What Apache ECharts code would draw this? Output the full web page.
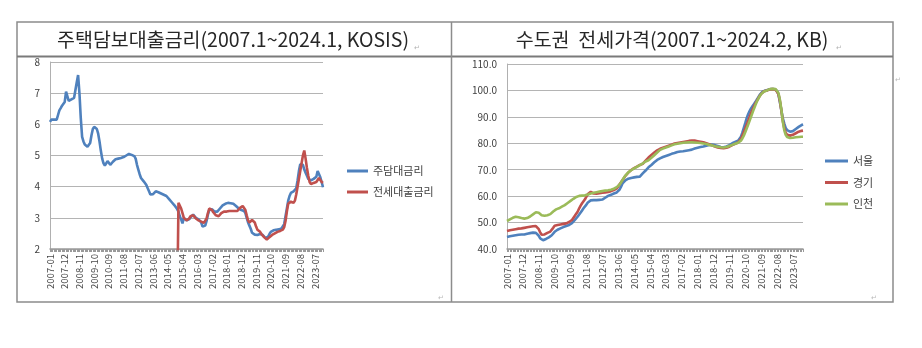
<!DOCTYPE html>
<html>
<head>
<meta charset="utf-8">
<script src="https://cdn.jsdelivr.net/npm/echarts@6/dist/echarts.min.js"></script>
<style>
  html, body { margin: 0; padding: 0; background: #fff; }
  #chart { width: 922px; height: 348px; }
</style>
</head>
<body>
<div id="chart"></div>
<script>
// 주택담보대출금리 (월별, %) 2007-01 ~ 2024-01
const mortgageRate = [
  6.08, 6.15, 6.18, 6.15, 6.12, 6.15, 6.3, 6.45, 6.52, 6.6, 6.65, 6.72,
  7.05, 6.9, 6.75, 6.78, 6.8, 6.8, 6.85, 7.1, 7.35, 7.58, 7.0, 6.2,
  5.6, 5.45, 5.35, 5.3, 5.28, 5.3, 5.4, 5.65, 5.85, 5.92, 5.93, 5.85,
  5.7, 5.45, 5.15, 4.9, 4.75, 4.68, 4.72, 4.82, 4.78, 4.7, 4.68, 4.8,
  4.82, 4.88, 4.9, 4.9, 4.88, 4.92, 4.95, 4.95, 4.98, 5.0, 5.02, 5.05,
  5.05, 5.02, 5.0, 4.98, 4.9, 4.7, 4.55, 4.4, 4.28, 4.22, 4.17, 4.12,
  4.05, 3.95, 3.85, 3.75, 3.72, 3.76, 3.82, 3.85, 3.84, 3.82, 3.8, 3.78,
  3.76, 3.74, 3.72, 3.7, 3.66, 3.6, 3.55, 3.5, 3.45, 3.4, 3.35, 3.28,
  3.2, 3.05, 2.95, 2.82, 3.0, 2.95, 2.92, 2.9, 2.95, 3.02, 3.08, 3.1,
  3.08, 3.0, 2.96, 2.95, 2.92, 2.85, 2.72, 2.67, 2.75, 2.9, 3.1, 3.25,
  3.3, 3.28, 3.22, 3.2, 3.2, 3.2, 3.25, 3.3, 3.35, 3.4, 3.43, 3.45,
  3.46, 3.48, 3.48, 3.47, 3.48, 3.45, 3.42, 3.38, 3.33, 3.3, 3.28, 3.25,
  3.25, 3.22, 3.15, 3.0, 2.85, 2.75, 2.65, 2.52, 2.48, 2.46, 2.45, 2.45,
  2.46, 2.48, 2.5, 2.45, 2.4, 2.35, 2.33, 2.4, 2.48, 2.55, 2.58, 2.6,
  2.6, 2.62, 2.63, 2.63, 2.64, 2.66, 2.7, 2.8, 3.05, 3.3, 3.55, 3.7,
  3.8, 3.82, 3.85, 3.88, 3.95, 4.2, 4.5, 4.72, 4.78, 4.7, 4.55, 4.45,
  4.35, 4.25, 4.2, 4.2, 4.22, 4.25, 4.28, 4.32, 4.5, 4.52, 4.3, 4.15,
  3.98
];

// 전세대출금리 (월별, %) 2014-12 ~ 2024-01; 2014-12 값은 공란(0)으로 집계됨
const jeonseLoanStart = '2014-12';
const jeonseLoanRate = [
  0,
  3.48, 3.42, 3.3, 3.15, 3.0, 2.95, 2.92, 2.92, 2.98, 3.05, 3.1, 3.08,
  3.02, 2.98, 2.95, 2.92, 2.9, 2.88, 2.85, 2.84, 2.88, 2.98, 3.15, 3.3,
  3.32, 3.25, 3.18, 3.12, 3.08, 3.05, 3.05, 3.1, 3.15, 3.18, 3.2, 3.2,
  3.2, 3.21, 3.22, 3.22, 3.22, 3.22, 3.22, 3.22, 3.22, 3.25, 3.32, 3.36,
  3.38, 3.35, 3.25, 3.08, 2.92, 2.85, 2.88, 2.93, 2.95, 2.85, 2.72, 2.62,
  2.6, 2.55, 2.48, 2.42, 2.38, 2.32, 2.3, 2.32, 2.38, 2.42, 2.45, 2.48,
  2.5, 2.52, 2.55, 2.57, 2.58, 2.58, 2.62, 2.7, 2.9, 3.2, 3.45, 3.5,
  3.52, 3.5, 3.48, 3.55, 3.75, 4.0, 4.25, 4.5, 4.75, 5.0, 5.16, 4.9,
  4.6, 4.35, 4.15, 4.08, 4.1, 4.12, 4.12, 4.15, 4.2, 4.28, 4.3, 4.15,
  4.12
];

// KB 전세가격지수 (2022.1=100) 2007-01 ~ 2024-02
const seoul = [
  44.5, 44.7, 44.8, 44.9, 45.0, 45.1, 45.2, 45.3, 45.4, 45.5, 45.5, 45.5,
  45.5, 45.6, 45.8, 45.9, 46.0, 46.1, 46.2, 46.2, 46.1, 45.8, 45.0, 44.0,
  43.4, 43.3, 43.5, 43.8, 44.1, 44.4, 44.7, 45.2, 45.8, 46.5, 47.0, 47.3,
  47.5, 47.8, 48.1, 48.3, 48.5, 48.7, 48.9, 49.1, 49.5, 49.8, 50.3, 51.0,
  51.5, 52.3, 53.0, 53.8, 54.6, 55.4, 56.0, 56.8, 57.6, 58.2, 58.4, 58.5,
  58.5, 58.5, 58.5, 58.6, 58.6, 58.6, 58.7, 59.0, 59.4, 59.8, 60.1, 60.3,
  60.5, 60.7, 61.0, 61.2, 61.4, 61.6, 62.5, 63.6, 64.8, 65.5, 66.0, 66.4,
  66.6, 66.8, 66.9, 67.0, 67.1, 67.2, 67.3, 67.3, 67.4, 67.9, 68.6, 69.2,
  69.7, 70.3, 70.9, 71.4, 71.8, 72.3, 72.8, 73.3, 73.7, 74.0, 74.3, 74.6,
  74.8, 75.0, 75.2, 75.4, 75.6, 75.8, 76.0, 76.1, 76.3, 76.5, 76.7, 76.8,
  76.9, 77.0, 77.0, 77.1, 77.2, 77.3, 77.4, 77.5, 77.6, 77.8, 78.0, 78.1,
  78.3, 78.4, 78.6, 78.7, 78.8, 78.9, 79.1, 79.3, 79.4, 79.5, 79.5, 79.4,
  79.3, 79.2, 79.0, 78.8, 78.6, 78.5, 78.5, 78.6, 78.8, 79.0, 79.3, 79.6,
  80.0, 80.3, 80.5, 80.7, 81.0, 81.5, 82.5, 84.0, 85.8, 87.6, 89.5, 91.0,
  92.2, 93.2, 94.0, 94.8, 95.6, 96.5, 97.4, 98.3, 99.0, 99.5, 99.8, 100.0,
  100.0, 100.3, 100.4, 100.5, 100.5, 100.5, 100.4, 99.8, 98.5, 95.5, 92.5, 89.5,
  87.5, 85.8, 85.0, 84.6, 84.4, 84.4, 84.6, 85.0, 85.4, 85.8, 86.2, 86.6,
  86.9, 87.2
];
const gyeonggi = [
  46.8, 47.0, 47.1, 47.2, 47.3, 47.4, 47.5, 47.6, 47.7, 47.8, 47.8, 47.9,
  48.0, 48.1, 48.2, 48.3, 48.4, 48.5, 48.6, 48.7, 48.7, 48.4, 47.5, 46.3,
  45.4, 45.3, 45.5, 45.8, 46.1, 46.4, 46.6, 47.2, 48.0, 48.8, 49.0, 49.1,
  49.2, 49.3, 49.4, 49.5, 49.6, 49.7, 49.9, 50.2, 50.6, 51.0, 51.7, 52.6,
  53.3, 54.2, 55.4, 56.4, 57.3, 58.0, 58.8, 59.8, 60.8, 61.5, 61.6, 61.3,
  61.0, 60.9, 60.9, 61.0, 61.1, 61.2, 61.3, 61.4, 61.4, 61.5, 61.6, 61.7,
  61.9, 62.1, 62.3, 62.6, 62.9, 63.5, 64.5, 65.3, 66.0, 66.9, 67.7, 68.4,
  68.9, 69.4, 69.9, 70.3, 70.6, 70.9, 71.2, 71.5, 71.8, 72.0, 72.2, 72.8,
  73.4, 74.0, 74.6, 75.1, 75.6, 76.1, 76.5, 76.9, 77.3, 77.6, 77.9, 78.1,
  78.3, 78.5, 78.7, 78.9, 79.1, 79.3, 79.5, 79.7, 79.9, 80.0, 80.1, 80.2,
  80.3, 80.4, 80.5, 80.6, 80.7, 80.8, 80.9, 81.0, 81.0, 81.0, 81.0, 80.9,
  80.8, 80.7, 80.6, 80.5, 80.4, 80.2, 80.0, 79.8, 79.6, 79.4, 79.2, 79.0,
  78.8, 78.6, 78.4, 78.3, 78.2, 78.1, 78.1, 78.2, 78.3, 78.5, 78.7, 79.0,
  79.3, 79.6, 79.8, 80.0, 80.3, 80.8, 81.6, 82.8, 84.2, 85.6, 87.0, 88.5,
  90.0, 91.4, 92.7, 93.9, 95.0, 96.0, 97.0, 97.9, 98.7, 99.3, 99.7, 100.0,
  100.0, 100.3, 100.4, 100.5, 100.5, 100.5, 100.3, 99.8, 98.6, 96.0, 92.5, 88.5,
  85.8, 84.0, 83.2, 82.9, 82.9, 83.0, 83.2, 83.5, 83.8, 84.1, 84.4, 84.6,
  84.7, 84.8
];
const incheon = [
  50.6, 50.9, 51.2, 51.5, 51.8, 52.1, 52.2, 52.2, 52.0, 51.8, 51.7, 51.6,
  51.5, 51.5, 51.7, 52.0, 52.3, 52.7, 53.1, 53.5, 53.9, 54.0, 53.7, 53.2,
  52.8, 52.6, 52.6, 52.7, 52.8, 52.9, 53.2, 53.7, 54.2, 54.7, 55.0, 55.2,
  55.4, 55.7, 56.0, 56.3, 56.6, 57.0, 57.4, 57.8, 58.2, 58.6, 59.0, 59.3,
  59.7, 59.9, 60.1, 60.2, 60.2, 60.2, 60.3, 60.4, 60.6, 60.8, 61.0, 61.2,
  61.3, 61.4, 61.5, 61.6, 61.7, 61.8, 61.9, 62.0, 62.1, 62.2, 62.2, 62.3,
  62.4, 62.6, 62.8, 63.1, 63.4, 63.8, 64.4, 65.2, 66.1, 67.0, 67.8, 68.5,
  69.0, 69.4, 69.8, 70.2, 70.5, 70.8, 71.1, 71.4, 71.7, 72.0, 72.4, 72.8,
  73.1, 73.3, 73.6, 74.0, 74.5, 75.0, 75.5, 76.0, 76.5, 77.1, 77.5, 77.8,
  78.0, 78.2, 78.4, 78.6, 78.8, 79.0, 79.2, 79.4, 79.6, 79.7, 79.8, 79.9,
  80.0, 80.1, 80.2, 80.3, 80.3, 80.4, 80.4, 80.4, 80.4, 80.4, 80.3, 80.3,
  80.2, 80.2, 80.1, 80.0, 79.9, 79.8, 79.7, 79.6, 79.4, 79.3, 79.2, 79.0,
  78.9, 78.8, 78.7, 78.6, 78.5, 78.4, 78.4, 78.5, 78.6, 78.8, 79.0, 79.2,
  79.4, 79.6, 79.8, 80.0, 80.2, 80.5, 81.0, 81.8, 82.9, 84.2, 85.6, 87.0,
  88.5, 90.0, 91.5, 93.0, 94.4, 95.7, 96.8, 97.8, 98.6, 99.2, 99.6, 99.9,
  100.0, 100.3, 100.5, 100.6, 100.6, 100.6, 100.5, 100.1, 99.0, 96.5, 92.8, 88.2,
  85.0, 83.2, 82.4, 82.1, 82.0, 82.0, 82.1, 82.2, 82.3, 82.4, 82.4, 82.5,
  82.5, 82.5
];

const leftTitle = '주택담보대출금리(2007.1~2024.1, KOSIS)';
const rightTitle = '수도권  전세가격(2007.1~2024.2, KB)';
const leftNames = ['주담대금리', '전세대출금리'];
const rightNames = ['서울', '경기', '인천'];

// monthly category labels "YYYY-MM"
function monthLabels(count) {
  const out = [];
  for (let k = 0; k < count; k++) {
    const y = 2007 + Math.floor(k / 12);
    const m = (k % 12) + 1;
    out.push(y + '-' + (m < 10 ? '0' + m : m));
  }
  return out;
}
const leftMonths = monthLabels(mortgageRate.length);
const rightMonths = monthLabels(seoul.length);

// align the 전세대출금리 series on the shared month axis
const jeonseOffset = leftMonths.indexOf(jeonseLoanStart);
const jeonseSeries = leftMonths.map((_, k) =>
  k < jeonseOffset ? '-' : jeonseLoanRate[k - jeonseOffset]);

const FONT = '"Noto Sans CJK KR", "Noto Sans", sans-serif';
const BLUE = '#4f81bd', RED = '#c0504d', GREEN = '#9bbb59';
const BORDER = '#8c8c8c';

function xAxisCfg(idx, data) {
  return {
    type: 'category', gridIndex: idx, data: data, boundaryGap: false,
    axisLine: { lineStyle: { color: '#9a9a9a', width: 1.5 } },
    axisTick: { show: true, interval: 0, length: 3, lineStyle: { color: '#9a9a9a' } },
    axisLabel: { interval: 10, rotate: 90, fontSize: 9.5, color: '#4a4a4a',
                 fontFamily: FONT, margin: 5 },
    splitLine: { show: false }
  };
}
function yAxisCfg(idx, min, max, step, fmt) {
  return {
    type: 'value', gridIndex: idx, min: min, max: max, interval: step,
    axisLine: { show: true, lineStyle: { color: '#b0b0b0', width: 1 } },
    axisTick: { show: false },
    axisLabel: { fontSize: 10, color: '#404040', fontFamily: FONT, margin: 10,
                 formatter: fmt },
    splitLine: { lineStyle: { color: '#b4b4b4', width: 1.2 } }
  };
}
function lineSeries(name, xi, data, color) {
  return {
    type: 'line', name: name, xAxisIndex: xi, yAxisIndex: xi, data: data,
    showSymbol: false, symbol: 'none', connectNulls: false, clip: true,
    lineStyle: { color: color, width: 2.6 }, itemStyle: { color: color },
    emphasis: { disabled: true }, animation: false
  };
}

const chart = echarts.init(document.getElementById('chart'));
chart.setOption({
  backgroundColor: '#ffffff',
  animation: false,
  grid: [
    { left: 50, top: 62, width: 273, height: 187 },
    { left: 507, top: 64, width: 296, height: 185 }
  ],
  xAxis: [xAxisCfg(0, leftMonths), xAxisCfg(1, rightMonths)],
  yAxis: [
    yAxisCfg(0, 2, 8, 1, v => String(v)),
    yAxisCfg(1, 40, 110, 10, v => v.toFixed(1))
  ],
  legend: [
    { data: leftNames, orient: 'vertical', left: 342, top: 159, icon: 'rect',
      itemWidth: 21, itemHeight: 3, itemGap: 7,
      textStyle: { fontSize: 11, color: '#404040', fontFamily: FONT, lineHeight: 14 } },
    { data: rightNames, orient: 'vertical', left: 820, top: 149, icon: 'rect',
      itemWidth: 23, itemHeight: 3, itemGap: 7.5,
      textStyle: { fontSize: 11, color: '#404040', fontFamily: FONT, lineHeight: 14 } }
  ],
  series: [
    lineSeries(leftNames[0], 0, mortgageRate, BLUE),
    lineSeries(leftNames[1], 0, jeonseSeries, RED),
    lineSeries(rightNames[0], 1, seoul, BLUE),
    lineSeries(rightNames[1], 1, gyeonggi, RED),
    lineSeries(rightNames[2], 1, incheon, GREEN)
  ],
  graphic: [
    // table frame
    { type: 'rect', shape: { x: 17, y: 22, width: 876, height: 280 },
      style: { fill: 'none', stroke: BORDER, lineWidth: 1.5 }, silent: true },
    { type: 'line', shape: { x1: 17, y1: 56.5, x2: 893, y2: 56.5 },
      style: { stroke: '#7a7a7a', lineWidth: 2 }, silent: true },
    { type: 'line', shape: { x1: 451.5, y1: 22, x2: 451.5, y2: 302 },
      style: { stroke: BORDER, lineWidth: 1.5 }, silent: true },
    // cell titles
    { type: 'text', x: 233, y: 40, silent: true,
      style: { text: leftTitle, font: '19.5px ' + FONT, fill: '#262626',
               align: 'center', verticalAlign: 'middle',
               textAlign: 'center', textVerticalAlign: 'middle' } },
    { type: 'text', x: 672, y: 40, silent: true,
      style: { text: rightTitle, font: '19.5px ' + FONT, fill: '#262626',
               align: 'center', verticalAlign: 'middle',
               textAlign: 'center', textVerticalAlign: 'middle' } },
    // paragraph marks
    { type: 'text', x: 414, y: 44, silent: true,
      style: { text: '↵', font: '7px ' + FONT, fill: '#b0b0b0' } },
    { type: 'text', x: 836, y: 44, silent: true,
      style: { text: '↵', font: '7px ' + FONT, fill: '#b0b0b0' } },
    { type: 'text', x: 438, y: 294, silent: true,
      style: { text: '↵', font: '7px ' + FONT, fill: '#b8b8b8' } },
    { type: 'text', x: 871, y: 294, silent: true,
      style: { text: '↵', font: '7px ' + FONT, fill: '#b8b8b8' } },
    { type: 'text', x: 895, y: 76, silent: true,
      style: { text: '↵', font: '7px ' + FONT, fill: '#b8b8b8' } }
  ]
});
</script>
</body>
</html>
